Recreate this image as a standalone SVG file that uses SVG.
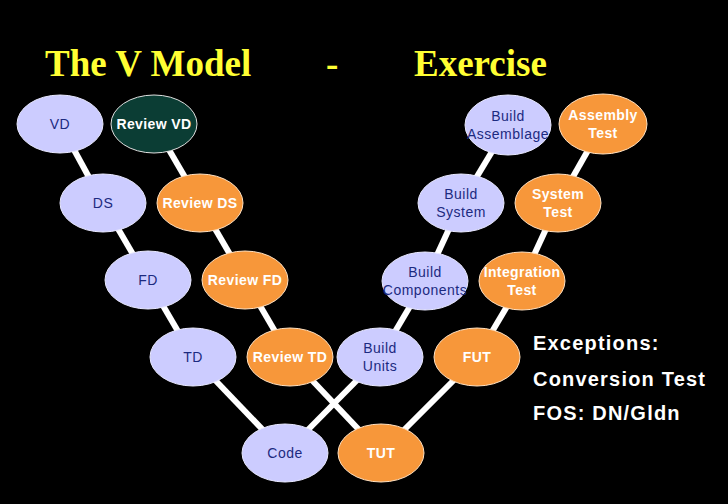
<svg xmlns="http://www.w3.org/2000/svg" width="728" height="504" viewBox="0 0 728 504">
<style>
.bg{fill:#000}
.title{font-family:"Liberation Serif",serif;font-weight:bold;font-size:37px;fill:#ffff33}
.lite ellipse{fill:#ccccff;stroke:#e8e8ff;stroke-width:1}
.lite text{font-family:"Liberation Sans",Arial,sans-serif;font-size:14px;letter-spacing:0.5px;fill:#1c2a80;text-anchor:middle}
.org ellipse{fill:#f7973a;stroke:#ffe0c0;stroke-width:1}
.org text{font-family:"Liberation Sans",Arial,sans-serif;font-size:14px;letter-spacing:0.4px;font-weight:bold;fill:#fff;text-anchor:middle}
.dark ellipse{fill:#0b3d34;stroke:#e0e0e0;stroke-width:1}
.dark text{font-family:"Liberation Sans",Arial,sans-serif;font-size:14px;letter-spacing:0.4px;font-weight:bold;fill:#fff;text-anchor:middle}
#connectors line{stroke:#fff;stroke-width:6}
.note{font-family:"Liberation Sans",Arial,sans-serif;font-size:20px;letter-spacing:1.2px;font-weight:bold;fill:#fff}
</style>
<rect class="bg" x="0" y="0" width="728" height="504"/>
<g id="title">
<text class="title" x="45" y="76">The V Model</text>
<text class="title" x="326" y="76">-</text>
<text class="title" x="414" y="76">Exercise</text>
</g>
<g id="connectors">
<line x1="60" y1="124" x2="103" y2="203"/>
<line x1="103" y1="203" x2="148" y2="280"/>
<line x1="148" y1="280" x2="193" y2="357"/>
<line x1="193" y1="357" x2="285" y2="453"/>
<line x1="154" y1="124" x2="200" y2="203"/>
<line x1="200" y1="203" x2="245" y2="280"/>
<line x1="245" y1="280" x2="290" y2="357"/>
<line x1="290" y1="357" x2="381" y2="453"/>
<line x1="285" y1="453" x2="380" y2="357"/>
<line x1="380" y1="357" x2="425" y2="281"/>
<line x1="425" y1="281" x2="461" y2="203"/>
<line x1="461" y1="203" x2="508" y2="125"/>
<line x1="381" y1="453" x2="477" y2="357"/>
<line x1="477" y1="357" x2="522" y2="281"/>
<line x1="522" y1="281" x2="558" y2="203"/>
<line x1="558" y1="203" x2="603" y2="124"/>
</g>
<g id="vd" class="lite"><ellipse cx="60" cy="124" rx="43" ry="29"/><text x="60" y="129">VD</text></g>
<g id="review-vd" class="dark"><ellipse cx="154" cy="124" rx="43" ry="29"/><text x="154" y="129">Review VD</text></g>
<g id="ds" class="lite"><ellipse cx="103" cy="203" rx="43" ry="29"/><text x="103" y="208">DS</text></g>
<g id="review-ds" class="org"><ellipse cx="200" cy="203" rx="43" ry="29"/><text x="200" y="208">Review DS</text></g>
<g id="fd" class="lite"><ellipse cx="148" cy="280" rx="43" ry="29"/><text x="148" y="285">FD</text></g>
<g id="review-fd" class="org"><ellipse cx="245" cy="280" rx="43" ry="29"/><text x="245" y="285">Review FD</text></g>
<g id="td" class="lite"><ellipse cx="193" cy="357" rx="43" ry="29"/><text x="193" y="362">TD</text></g>
<g id="review-td" class="org"><ellipse cx="290" cy="357" rx="43" ry="29"/><text x="290" y="362">Review TD</text></g>
<g id="code" class="lite"><ellipse cx="285" cy="453" rx="43" ry="29"/><text x="285" y="458">Code</text></g>
<g id="tut" class="org"><ellipse cx="381" cy="453" rx="43" ry="29"/><text x="381" y="458">TUT</text></g>
<g id="build-units" class="lite"><ellipse cx="380" cy="357" rx="43" ry="29"/><text x="380" y="353">Build</text><text x="380" y="371">Units</text></g>
<g id="fut" class="org"><ellipse cx="477" cy="357" rx="43" ry="29"/><text x="477" y="362">FUT</text></g>
<g id="build-components" class="lite"><ellipse cx="425" cy="281" rx="43" ry="29"/><text x="425" y="277">Build</text><text x="425" y="295">Components</text></g>
<g id="integration-test" class="org"><ellipse cx="522" cy="281" rx="43" ry="29"/><text x="522" y="277">Integration</text><text x="522" y="295">Test</text></g>
<g id="build-system" class="lite"><ellipse cx="461" cy="203" rx="43" ry="29"/><text x="461" y="199">Build</text><text x="461" y="217">System</text></g>
<g id="system-test" class="org"><ellipse cx="558" cy="203" rx="43" ry="29"/><text x="558" y="199">System</text><text x="558" y="217">Test</text></g>
<g id="build-assemblage" class="lite"><ellipse cx="508" cy="125" rx="43" ry="30"/><text x="508" y="121">Build</text><text x="508" y="139">Assemblage</text></g>
<g id="assembly-test" class="org"><ellipse cx="603" cy="124" rx="44" ry="30"/><text x="603" y="120">Assembly</text><text x="603" y="138">Test</text></g>
<g id="notes">
<text class="note" x="533" y="350">Exceptions:</text>
<text class="note" x="533" y="386">Conversion Test</text>
<text class="note" x="533" y="420">FOS: DN/Gldn</text>
</g>
</svg>
